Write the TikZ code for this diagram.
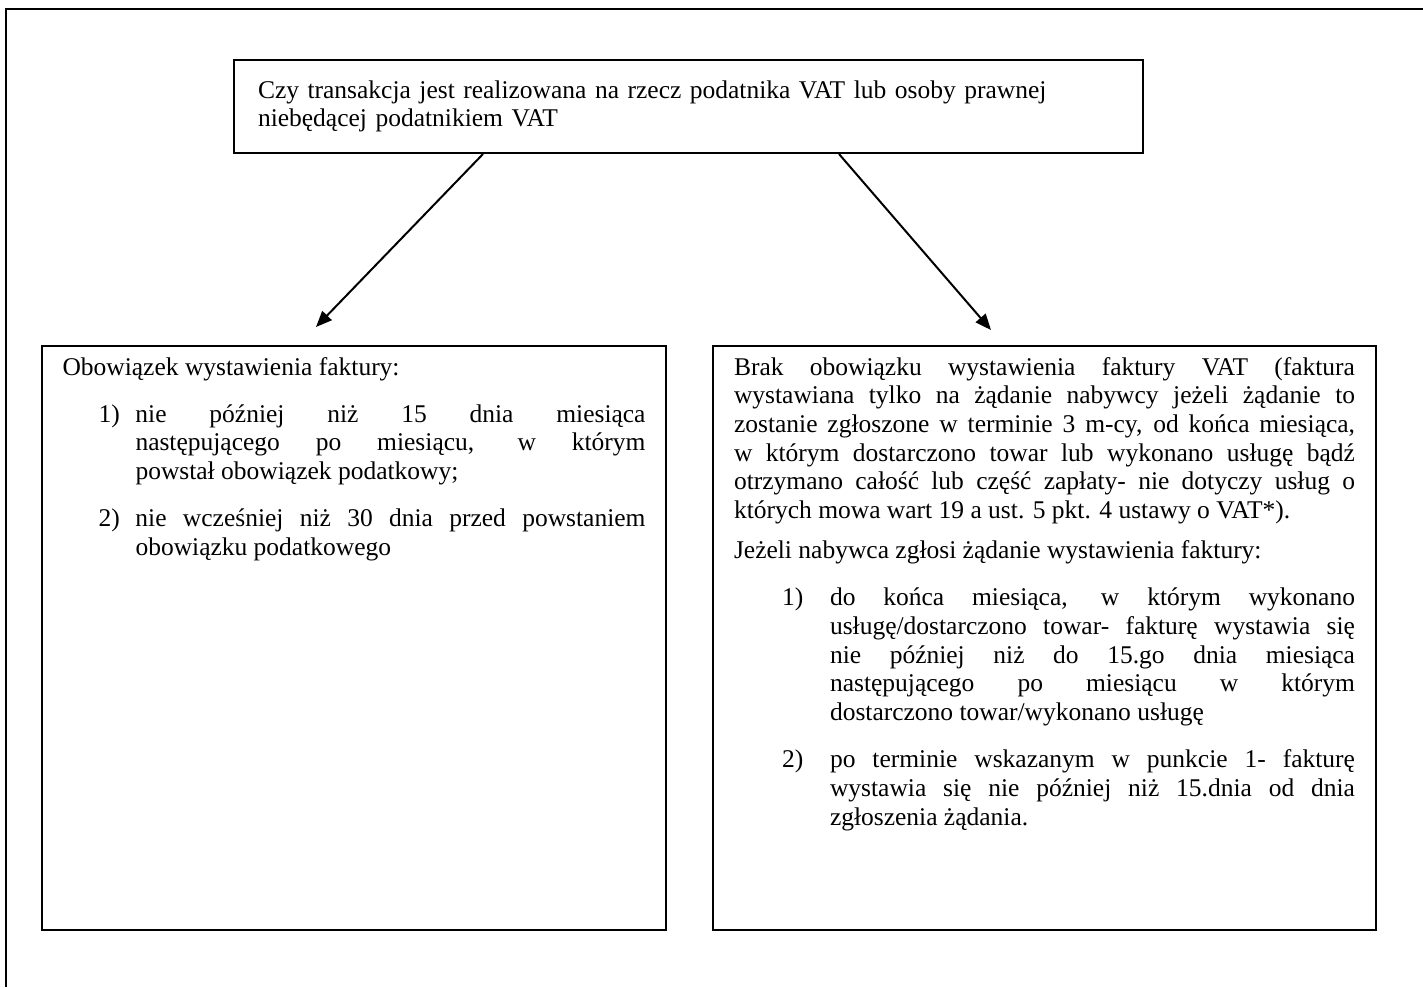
\documentclass[tikz,border=0pt]{standalone}
\usepackage{fontspec}
\setmainfont{Liberation Serif}
\usetikzlibrary{arrows.meta, positioning}

\newcommand{\punkt}[3]{\par\vspace{9.2pt}\noindent\hangindent=#2\hangafter=0 \llap{\makebox[#3][l]{#1}}}

\begin{document}
\begin{tikzpicture}[x=0.5pt, y=-0.5pt,
    ramka/.style={draw, line width=1pt, rectangle, inner ysep=0pt, font=\fontsize{12.75pt}{14.35pt}\selectfont},
    strzalka/.style={line width=1pt, -{Triangle[length=8pt,width=6.5pt]}}]
    \useasboundingbox (0,0) rectangle (1423,987);
    \draw[line width=1pt] (1423,9) -- (6,9) -- (6,987);
    \node[ramka, anchor=north west, text width=430.5pt, inner xsep=12pt, minimum height=46.5pt, align=left] (pytanie) at (233,59)
        {Czy transakcja jest realizowana na rzecz podatnika VAT lub osoby prawnej\\ niebędącej podatnikiem VAT};
    \node[ramka, anchor=north west, inner xsep=10.25pt] (obowiazek) at (41,345) {\parbox[t][292pt][t]{291.5pt}{
        \noindent\rule{0pt}{14.5pt}Obowiązek wystawienia faktury:
        \punkt{1)}{36.5pt}{18.5pt}nie później niż 15 dnia miesiąca\linebreak następującego po miesiącu, w którym\linebreak powstał obowiązek podatkowy;
        \punkt{2)}{36.5pt}{18.5pt}nie wcześniej niż 30 dnia przed powstaniem\linebreak obowiązku podatkowego\par}};
    \node[ramka, anchor=north west, inner xsep=10.5pt] (brak) at (712,345) {\parbox[t][292pt][t]{310.5pt}{
        \noindent\rule{0pt}{14.5pt}Brak obowiązku wystawienia faktury VAT (faktura\linebreak wystawiana tylko na żądanie nabywcy jeżeli żądanie to\linebreak zostanie zgłoszone w terminie 3 m-cy, od końca miesiąca,\linebreak w którym dostarczono towar lub wykonano usługę bądź\linebreak otrzymano całość lub część zapłaty- nie dotyczy usług o\linebreak których mowa wart 19 a ust. 5 pkt. 4 ustawy o VAT*).
        \par\vspace{5.7pt}\noindent Jeżeli nabywca zgłosi żądanie wystawienia faktury:
        \punkt{1)}{48pt}{24pt}do końca miesiąca, w którym wykonano\linebreak usługę/\allowbreak dostarczono towar- fakturę wystawia się\linebreak nie później niż do 15.go dnia miesiąca\linebreak następującego po miesiącu w którym\linebreak dostarczono towar/wykonano usługę
        \punkt{2)}{48pt}{24pt}po terminie wskazanym w punkcie 1- fakturę\linebreak wystawia się nie później niż 15.dnia od dnia\linebreak zgłoszenia żądania.\par}};
    \draw[strzalka] ([xshift=-102.75pt]pytanie.south) -- ([xshift=-19pt,yshift=9pt]obowiazek.north);
    \draw[strzalka] ([xshift=75.25pt]pytanie.south) -- ([xshift=-26.75pt,yshift=7.5pt]brak.north);
\end{tikzpicture}
\end{document}
